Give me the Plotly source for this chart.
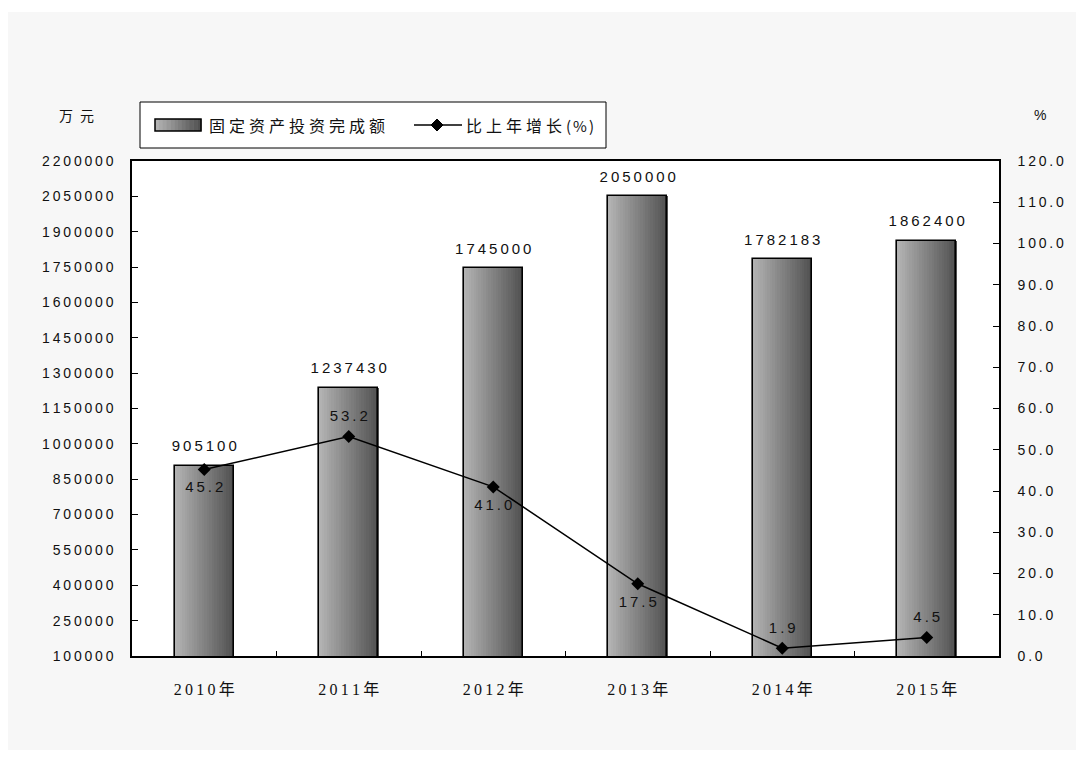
import plotly.graph_objects as go

years = ["2010年", "2011年", "2012年", "2013年", "2014年", "2015年"]
invest = [905100, 1237430, 1745000, 2050000, 1782183, 1862400]
growth = [45.2, 53.2, 41.0, 17.5, 1.9, 4.5]
growth_pos = ["bottom center", "top center", "bottom center", "bottom center", "top center", "top center"]
left_ticks = list(range(100000, 2200001, 150000))
right_ticks = list(range(0, 121, 10))

SANS = "Liberation Sans, Arial, sans-serif"
SERIF = "Liberation Serif, Noto Sans CJK SC, serif"
CJK = "Noto Sans CJK SC, sans-serif"
TS = "\u2009"


def spaced(s, sep=TS):
    return sep.join(str(s))


def tracked(s, px):
    return f'<span style="letter-spacing:{px}px">{s}</span>'


# page is offset by the 8px body margin
W, H = 1084, 776
PL, PR, PT, PB = 132, 999, 161, 656  # plot area in page pixels
OFF = 8


def xp(px):
    return (px - PL) / (PR - PL)


def yp(py):
    return (PB - py) / (PB - PT)


bar_w = 0.41
n_slices = 24
c0, c1 = 178, 82  # left light -> right dark


def grey(k, n):
    g = round(c0 + (c1 - c0) * k / (n - 1))
    return f"rgb({g},{g},{g})"


fig = go.Figure()

# gradient bars drawn as thin overlaid slices
for k in range(n_slices):
    fig.add_trace(go.Bar(
        x=years, y=invest, base=0,
        width=bar_w / n_slices + 0.002,
        offset=-bar_w / 2 + k * bar_w / n_slices,
        marker=dict(color=grey(k, n_slices), line=dict(width=0)),
        showlegend=False, hoverinfo="skip",
    ))
# outline
fig.add_trace(go.Bar(
    x=years, y=invest, width=bar_w, offset=-bar_w / 2,
    marker=dict(color="rgba(0,0,0,0)", line=dict(color="#000", width=1.6)),
    showlegend=False, hoverinfo="skip",
))
# bar value labels
fig.add_trace(go.Scatter(
    x=years, y=invest, mode="markers+text",
    marker=dict(size=16, opacity=0),
    text=[spaced(v) for v in invest], textposition="top center",
    textfont=dict(family=SANS, size=15, color="#111"),
    showlegend=False, hoverinfo="skip",
))
# growth line
fig.add_trace(go.Scatter(
    x=years, y=growth, yaxis="y2", mode="lines+markers",
    line=dict(color="#000", width=1.5),
    marker=dict(symbol="diamond", size=10, color="#000"),
    showlegend=False,
))
fig.add_trace(go.Scatter(
    x=years, y=growth, yaxis="y2", mode="markers+text",
    marker=dict(size=17, opacity=0),
    text=[spaced(f"{v:.1f}") for v in growth], textposition=growth_pos,
    textfont=dict(family=SANS, size=15, color="#111"),
    showlegend=False, hoverinfo="skip",
))

# hand-drawn legend (wide gradient swatch like the original)
shapes = [
    dict(type="rect", xref="paper", yref="paper", layer="below",
         x0=xp(8), x1=xp(1076), y0=yp(750), y1=yp(12),
         fillcolor="#f7f7f7", line=dict(width=0)),
    dict(type="rect", xref="paper", yref="paper", layer="below",
         x0=0, x1=1, y0=0, y1=1, fillcolor="#ffffff", line=dict(width=0)),
    dict(type="rect", xref="paper", yref="paper",
         x0=xp(140), x1=xp(606), y0=yp(148), y1=yp(102),
         fillcolor="#ffffff", line=dict(color="#000", width=1)),
]
sw0, sw1, n_sw = 155, 201, 12
for k in range(n_sw):
    a = sw0 + (sw1 - sw0) * k / n_sw
    b = sw0 + (sw1 - sw0) * (k + 1) / n_sw + 0.5
    shapes.append(dict(type="rect", xref="paper", yref="paper",
                       x0=xp(a), x1=xp(b), y0=yp(131), y1=yp(119),
                       fillcolor=grey(k, n_sw), line=dict(width=0)))
shapes.append(dict(type="rect", xref="paper", yref="paper",
                   x0=xp(sw0), x1=xp(sw1), y0=yp(131), y1=yp(119),
                   line=dict(color="#000", width=1.5)))
shapes.append(dict(type="line", xref="paper", yref="paper",
                   x0=xp(414), x1=xp(462), y0=yp(125), y1=yp(125),
                   line=dict(color="#000", width=1.5)))
dx, dc, dy = 6, 437, 125
shapes.append(dict(
    type="path", xref="paper", yref="paper", fillcolor="#000", line=dict(color="#000", width=1),
    path=f"M {xp(dc - dx)},{yp(dy)} L {xp(dc)},{yp(dy - dx)} L {xp(dc + dx)},{yp(dy)} L {xp(dc)},{yp(dy + dx)} Z",
))

fig.update_layout(
    width=W, height=H,
    margin=dict(l=PL - OFF, r=W - (PR - OFF), t=PT - OFF, b=H - (PB - OFF)),
    paper_bgcolor="#ffffff", plot_bgcolor="#ffffff",
    barmode="overlay", bargap=0,
    font=dict(family=SANS, size=14, color="#111"),
    showlegend=False,
    shapes=shapes,
    annotations=[
        dict(text=tracked("固定资产投资完成额", 4), xref="paper", yref="paper",
             x=xp(207), y=yp(125), xanchor="left", yanchor="middle", showarrow=False,
             font=dict(family=CJK, size=16, color="#111")),
        dict(text=tracked("比上年增长", 4) + '<span style="font-size:15px;letter-spacing:2px">(%)</span>',
             xref="paper", yref="paper",
             x=xp(464), y=yp(125), xanchor="left", yanchor="middle", showarrow=False,
             font=dict(family=CJK, size=16, color="#111")),
        dict(text=tracked("万元", 7), xref="paper", yref="paper",
             x=xp(57), y=yp(103), xanchor="left", showarrow=False,
             font=dict(family=CJK, size=14, color="#111")),
        dict(text="%", xref="paper", yref="paper",
             x=xp(1032), y=yp(105), xanchor="left", showarrow=False,
             font=dict(family=SANS, size=14, color="#111")),
    ],
)

fig.update_xaxes(
    type="category", range=[-0.5, 5.5],
    tickvals=years, ticktext=[spaced(y) for y in years],
    tickfont=dict(family=SERIF, size=16, color="#111"),
    showline=True, linecolor="#000", linewidth=1.5, mirror=True,
    ticks="inside", tickson="boundaries", ticklen=5, tickcolor="#000",
    ticklabelstandoff=18, showgrid=False,
)
fig.update_layout(
    yaxis=dict(
        range=[100000, 2200000], tickvals=left_ticks,
        ticktext=[spaced(v) for v in left_ticks],
        tickfont=dict(family=SANS, size=14, color="#111"),
        showline=True, linecolor="#000", linewidth=1.5,
        ticks="inside", ticklen=6, tickcolor="#000",
        ticklabelstandoff=14, showgrid=False, zeroline=False,
    ),
    yaxis2=dict(
        overlaying="y", side="right", range=[0, 120], tickvals=right_ticks,
        ticktext=[spaced(f"{v:.1f}") for v in right_ticks],
        tickfont=dict(family=SANS, size=14, color="#111"),
        showline=True, linecolor="#000", linewidth=1.5,
        ticks="inside", ticklen=6, tickcolor="#000",
        ticklabelstandoff=14, showgrid=False, zeroline=False,
    ),
)

fig.write_html("out.html")
